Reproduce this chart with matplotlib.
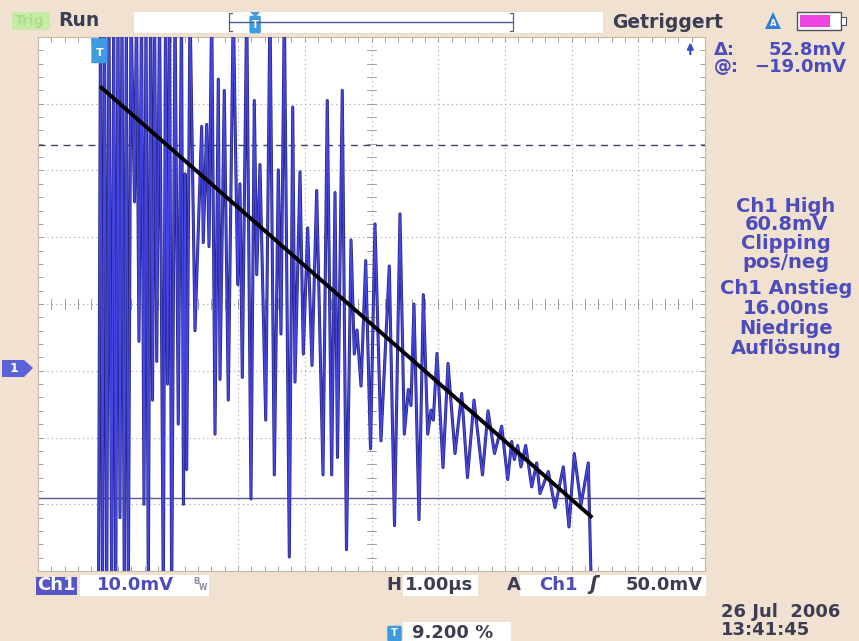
import matplotlib
matplotlib.use('Agg')
import matplotlib.pyplot as plt
import numpy as np
from matplotlib.patches import Rectangle, Polygon, FancyBboxPatch

# Ch1 trace, turning points (time in us, level in mV)
# +55 / -35 are clipped samples beyond the screen
trace_t = [0.907, 0.937, 0.967, 0.997, 1.030, 1.064, 1.105, 1.135, 1.165, 1.199,
           1.229, 1.259, 1.294, 1.324, 1.354, 1.394, 1.447, 1.477, 1.514, 1.552,
           1.589, 1.619, 1.654, 1.687, 1.717, 1.747, 1.780, 1.822, 1.879, 1.912,
           1.942, 1.972, 2.004, 2.054, 2.103, 2.151, 2.181, 2.204, 2.229, 2.279,
           2.354, 2.454, 2.478, 2.529, 2.564, 2.604, 2.654, 2.703, 2.729, 2.793,
           2.853, 2.928, 2.994, 3.028, 3.063, 3.129, 3.193, 3.243, 3.279, 3.328,
           3.414, 3.478, 3.543, 3.603, 3.643, 3.693, 3.768, 3.819, 3.853, 3.928,
           3.978, 4.043, 4.108, 4.178, 4.273, 4.337, 4.403, 4.453, 4.490, 4.562,
           4.625, 4.693, 4.742, 4.783, 4.843, 4.913, 4.985, 5.052, 5.142, 5.267,
           5.345, 5.427, 5.492, 5.552, 5.592, 5.637, 5.712, 5.777, 5.843, 5.892,
           5.927, 5.982, 6.072, 6.147, 6.252, 6.352, 6.439, 6.537, 6.664, 6.747,
           6.844, 6.952, 7.042, 7.102, 7.141, 7.192, 7.241, 7.312, 7.402, 7.477,
           7.526, 7.651, 7.751, 7.876, 7.961, 8.040, 8.141, 8.250, 8.301]
trace_mv = [-35, 55, -35, 55, -35, 55, -35, 55, -35, 55,
            -22, 55, -35, 55, -35, 55, 25.3, 55, 4.4, 55,
            -20, 55, -35, 55, -4.4, 55, 1.4, 55, -35, 55,
            -2, 55, -35, 55, -8, 55, -20, 29.5, -14.8, 55,
            6, 36.6, 19.2, 36.9, 18.6, 55, -9.5, 43.7, -1.3, 42,
            -4.4, 55, 12.9, 28, -1, 55, -19.2, 40.5, 14.4, 30.9,
            -7.4, 55, -15.6, 30.1, 5.5, 55, -27.9, 39.5, -1.7, 29.8,
            2.5, 21.4, 0.8, 27, -15.6, 40.5, -15.6, 26.7, -13, 42,
            -26.8, 19.6, 2.5, 6.1, -2.3, 16.5, -11.7, 22, -10.5, 15.7,
            -23.2, 23.5, -9.5, -2.8, -5.2, 10, -22.3, 11.4, -9.5, -5.9,
            -7.4, 2.6, -14.5, 1.1, -12.4, -3.4, -16, -4.4, -15.6, -6,
            -12.4, -8.3, -16.3, -10.6, -13.3, -11.2, -14.4, -11.2, -17.4, -13.8,
            -18.4, -15.1, -20.5, -14.4, -23.4, -12.4, -20.1, -13.8, -35]

# black envelope line drawn over the trace
slope_t = [0.93, 8.31]
slope_mv = [42.6, -22.0]

# cursors (mV)
cursor_a = 33.8
cursor_b = -19.0
trigger_pct = 9.200

right_block1 = ["Ch1 High", "60.8mV", "Clipping", "pos/neg"]
right_block2 = ["Ch1 Anstieg", "16.00ns", "Niedrige", "Auflösung"]

BG = '#f1e1d1'
TXT = '#4c4cbc'
DARK = '#3c3c52'
GRID = '#a0a0a0'
W, H = 859, 641


def fx(x):
    return x / W


def fy(y):
    return 1 - y / H


fig = plt.figure(figsize=(8.59, 6.41), dpi=100)
fig.patch.set_facecolor(BG)
plt.rcParams['font.family'] = ['DejaVu Sans']
plt.rcParams['font.weight'] = 'bold'

ax = fig.add_axes([fx(38), 1 - 571 / H, 667 / W, 534 / H])
ax.set_facecolor('white')
ax.set_xlim(0, 10)
ax.set_ylim(-30, 50)

# graticule
for x in range(1, 10):
    ax.axvline(x, color=GRID, ls=(0, (1, 3)), lw=0.8, zorder=1)
for y in range(-20, 50, 10):
    ax.axhline(y, color=GRID, ls=(0, (1, 3)), lw=0.8, zorder=1)
# ticks on the centre cross
for y in np.arange(-30, 50.1, 2):
    ax.plot([4.94, 5.06], [y, y], color=GRID, lw=0.7, zorder=1)
for x in np.arange(0, 10.01, 0.2):
    ax.plot([x, x], [9.2, 10.8], color=GRID, lw=0.7, zorder=1)

ax.set_xticks(np.arange(0, 10.01, 0.2))
ax.set_yticks(np.arange(-30, 50.1, 2))
ax.tick_params(direction='in', length=3.5, width=0.7, color=GRID,
               top=True, right=True, labelbottom=False, labelleft=False)
for s in ax.spines.values():
    s.set_color('#c8b8a8')
    s.set_linewidth(0.8)

# cursors
ax.axhline(cursor_a, color='#40406e', ls=(0, (5, 4)), lw=1.0, zorder=2)
ax.axhline(cursor_b, color='#5c5c90', lw=1.0, zorder=2)

# trace
ax.plot(trace_t, trace_mv, color='#262682', lw=2.2, zorder=3)
ax.plot(trace_t, trace_mv, color='#4646e4', lw=1.1, zorder=4)

# envelope line
ax.plot(slope_t, slope_mv, color='black', lw=2.8, zorder=5, solid_capstyle='butt')

# trigger position marker
tpos = trigger_pct / 10
ax.add_patch(FancyBboxPatch((tpos - 0.09, 46.1), 0.18, 3.7, boxstyle='round,pad=0.03',
                            fc='#3f9be0', ec='none', zorder=6, clip_on=False))
ax.text(tpos, 47.6, 'T', color='white', fontsize=8, ha='center', va='center', zorder=7)
# trigger level off screen
ax.annotate('', xy=(9.78, 49.6), xytext=(9.78, 47.0),
            arrowprops=dict(arrowstyle='-|>', color='#3050c0', lw=1.5, mutation_scale=9))

# channel 1 ground marker
fig.patches.append(Polygon([[fx(2), fy(360)], [fx(24), fy(360)], [fx(33), fy(368)],
                            [fx(24), fy(377)], [fx(2), fy(377)]], closed=True,
                           transform=fig.transFigure, fc='#5a62d8', ec='none'))
fig.text(fx(14), fy(368), '1', color='white', fontsize=9, ha='center', va='center')

# top bar
fig.patches.append(Rectangle((fx(12), fy(30)), fx(38), 18 / H, transform=fig.transFigure,
                             fc='#c8eca8', ec='none'))
fig.text(fx(15), fy(21), 'Trig', color='#aadf88', fontsize=10, va='center')
fig.text(fx(58), fy(21), 'Run', color=DARK, fontsize=13.5, va='center')
fig.patches.append(Rectangle((fx(133), fy(33)), fx(470), 22 / H, transform=fig.transFigure,
                             fc='white', ec='#e8dccf', lw=0.6))
fig.lines.append(plt.Line2D([fx(229), fx(513)], [fy(22), fy(22)], transform=fig.transFigure,
                            color='#4a5a9a', lw=1.0))
for xb, dx in ((229, 3), (513, -3)):
    fig.lines.append(plt.Line2D([fx(xb + dx), fx(xb), fx(xb), fx(xb + dx)],
                                [fy(13), fy(13), fy(31), fy(31)],
                                transform=fig.transFigure, color='#606070', lw=0.9))
xt = 229 + (513 - 229) * trigger_pct / 100
fig.patches.append(FancyBboxPatch((fx(xt - 4), fy(32)), 8 / W, 15 / H, boxstyle='round,pad=0.002',
                                  transform=fig.transFigure, fc='#3f9be0', ec='none'))
fig.patches.append(Polygon([[fx(xt - 5), fy(12)], [fx(xt + 5), fy(12)], [fx(xt), fy(17)]],
                           closed=True, transform=fig.transFigure, fc='#3f9be0', ec='none'))
fig.text(fx(xt), fy(25), 'T', color='white', fontsize=7, ha='center', va='center')
fig.text(fx(668), fy(22), 'Getriggert', color=DARK, fontsize=13.5, ha='center', va='center')
fig.patches.append(Polygon([[fx(765), fy(29)], [fx(781), fy(29)], [fx(773), fy(12)]],
                           closed=True, transform=fig.transFigure, fc='#2f7fd8', ec='none'))
fig.text(fx(773), fy(24), 'A', color='white', fontsize=6, ha='center', va='center')
fig.patches.append(Rectangle((fx(797), fy(30)), fx(44), 18 / H, transform=fig.transFigure,
                             fc='white', ec='#505060', lw=1.0))
fig.patches.append(Rectangle((fx(800), fy(27)), fx(30), 12 / H, transform=fig.transFigure,
                             fc='#ee44e0', ec='none'))
fig.patches.append(Rectangle((fx(841), fy(25)), fx(5), 8 / H, transform=fig.transFigure,
                             fc='white', ec='#505060', lw=0.8))

# cursor readout
fig.text(fx(714), fy(50), 'Δ:', color=TXT, fontsize=13, va='center')
fig.text(fx(846), fy(50), '52.8mV', color=TXT, fontsize=13, ha='right', va='center')
fig.text(fx(714), fy(67), '@:', color=TXT, fontsize=13, va='center')
fig.text(fx(846), fy(67), '−19.0mV', color=TXT, fontsize=13, ha='right', va='center')

# measurement panel
for i, s in enumerate(right_block1):
    fig.text(fx(786), fy(206 + 18.7 * i), s, color=TXT, fontsize=14, ha='center', va='center')
for i, s in enumerate(right_block2):
    fig.text(fx(786), fy(288 + 20 * i), s, color=TXT, fontsize=14, ha='center', va='center')

# bottom bar
fig.patches.append(Rectangle((fx(36), fy(595)), fx(41), 18 / H, transform=fig.transFigure,
                             fc='#5656c8', ec='none'))
fig.text(fx(56), fy(585), 'Ch1', color='white', fontsize=13, ha='center', va='center')
fig.patches.append(Rectangle((fx(80), fy(596)), fx(129), 21 / H, transform=fig.transFigure,
                             fc='white', ec='none'))
fig.text(fx(97), fy(585), '10.0mV', color=TXT, fontsize=13, va='center')
fig.text(fx(193), fy(582), 'B', color='#8a8aa0', fontsize=6, va='center')
fig.text(fx(199), fy(587), 'W', color='#8a8aa0', fontsize=5.5, va='center')
fig.text(fx(386), fy(585), 'H', color=DARK, fontsize=13, va='center')
fig.patches.append(Rectangle((fx(403), fy(596)), fx(75), 21 / H, transform=fig.transFigure,
                             fc='white', ec='none'))
fig.text(fx(405), fy(585), '1.00µs', color=DARK, fontsize=13, va='center')
fig.text(fx(507), fy(585), 'A', color=DARK, fontsize=13, va='center')
fig.patches.append(Rectangle((fx(520), fy(596)), fx(186), 21 / H, transform=fig.transFigure,
                             fc='white', ec='none'))
fig.text(fx(539), fy(585), 'Ch1', color=TXT, fontsize=13, va='center')
fig.text(fx(589), fy(585), 'ʃ', color=DARK, fontsize=14, va='center', style='italic')
fig.text(fx(703), fy(585), '50.0mV', color=DARK, fontsize=13, ha='right', va='center')

fig.patches.append(FancyBboxPatch((fx(389), fy(640)), 11 / W, 13 / H, boxstyle='round,pad=0.002',
                                  transform=fig.transFigure, fc='#3f9be0', ec='none'))
fig.text(fx(394.5), fy(633), 'T', color='white', fontsize=7, ha='center', va='center')
fig.patches.append(Rectangle((fx(403), fy(641)), fx(108), 19 / H, transform=fig.transFigure,
                             fc='white', ec='none'))
fig.text(fx(412), fy(633), f'{trigger_pct:.3f} %', color=DARK, fontsize=13, va='center')

fig.text(fx(721), fy(612), '26 Jul  2006', color=DARK, fontsize=13, va='center')
fig.text(fx(721), fy(630), '13:41:45', color=DARK, fontsize=13, va='center')

fig.savefig('out.png', dpi=100, facecolor=BG)
